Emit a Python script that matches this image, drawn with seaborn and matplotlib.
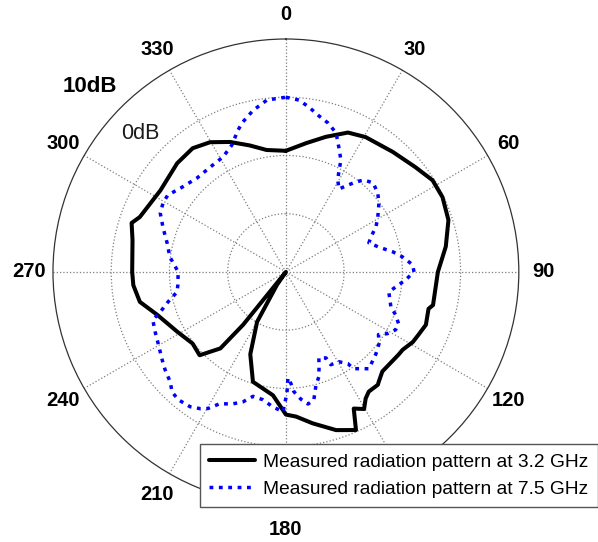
import matplotlib
matplotlib.use("Agg")
import matplotlib.pyplot as plt
import numpy as np
import seaborn as sns

# angles in degrees (clockwise from top), levels in dB
ang_32 = [0, 9, 16.5, 24, 30.6, 41.7, 51, 58, 64.5, 72.3, 81, 90, 102.7, 104.5,
          110.7, 115.3, 118.9, 123.7, 126.3, 132, 135.9, 139.8, 140.8, 145.3,
          147.8, 150.3, 153.6, 156.1, 162.4, 170, 176, 180, 186, 196.7, 203.4,
          210, 214.7, 217, 219, 220.6, 226, 232.5, 241.2, 251.6, 258.4, 265,
          270, 281.7, 287.6, 290.6, 303, 315, 323, 329.7, 336.7, 344, 351, 360]
db_32 = [-9.2, -7.6, -5.8, -3.8, -3.1, -2.4, -1.4, -0.3, -0.2, -0.7, -2.2, -3.9,
         -4.1, -4.7, -4.3, -4.8, -5.1, -5.9, -6.0, -6.2, -6.2, -5.3, -5.0, -5.0,
         -4.3, -2.9, -3.8, -0.3, -1.5, -3.6, -5.1, -5.5, -8.7, -10.3, -14.6,
         -20.1, -27.3, -30.0, -18.3, -12.7, -9.4, -9.8, -8.7, -6.7, -4.4, -3.7,
         -3.6, -3.1, -2.2, -3.2, -4.3, -3.6, -3.4, -4.2, -5.7, -7.4, -8.8, -9.2]

ang_75 = [0, 4.3, 7.9, 11.9, 15.7, 19.8, 23.1, 26.2, 27.9, 29.5, 32.6, 34.9,
          37.9, 40.3, 44.4, 49.3, 53.4, 59.1, 63.4, 67.6, 70.7, 75, 79.4, 82.7,
          86.8, 90, 93.8, 101, 108.4, 111.3, 114.7, 117.8, 121.3, 124.1, 127.7,
          132.3, 134.7, 139.4, 143, 145, 146, 149.5, 154.2, 155, 159, 160.8,
          162.6, 165.1, 167.7, 170.5, 173.3, 176.2, 177.4, 178.9, 179.5, 181.2,
          185.5, 190.2, 194.8, 198.3, 202.2, 206.6, 209.7, 212, 215.4, 220.2,
          223.5, 226.5, 231, 235, 240.3, 245.4, 250.2, 252.4, 255.7, 259.6, 263,
          270, 277.4, 283.7, 289.7, 295, 299.3, 303, 309.3, 316.6, 324, 331.3,
          337, 341.3, 344, 348.5, 353.7, 360]
db_75 = [0.0, -0.4, -1.4, -2.6, -3.4, -4.6, -6.8, -8.6, -10.6, -11.9, -13.1,
         -12.0, -10.4, -9.3, -8.6, -9.2, -10.1, -11.6, -12.7, -14.2, -14.9, -13.5,
         -11.3, -9.8, -8.2, -8.0, -9.4, -12.0, -11.0, -9.8, -8.7, -8.7, -9.6,
         -10.8, -9.8, -9.1, -8.8, -8.1, -9.2, -9.7, -11.0, -12.1, -12.3, -13.7,
         -14.2, -12.7, -11.1, -9.9, -7.5, -7.0, -8.0, -9.4, -10.8, -11.8, -9.2,
         -6.0, -6.7, -7.7, -7.9, -6.5, -5.5, -4.7, -3.0, -2.3, -1.6, -1.3, -1.6,
         -2.6, -3.3, -4.0, -4.8, -5.3, -5.7, -7.4, -9.1, -11.0, -11.3, -11.5,
         -9.9, -9.0, -7.6, -6.2, -5.8, -5.8, -7.0, -7.8, -7.8, -7.5, -6.3, -4.3,
         -3.2, -1.7, -0.3, 0.0]

angle_ticks = list(range(0, 360, 30))
# the 150 label sits under the legend box in the original, so it is not shown
angle_labels = ["" if a == 150 else str(a) for a in angle_ticks]
ring_levels = [-20, -10, 0]
label_32 = "Measured radiation pattern at 3.2 GHz"
label_75 = "Measured radiation pattern at 7.5 GHz"

sns.set_style("white")
plt.rcParams["font.family"] = ["Liberation Sans", "DejaVu Sans"]
plt.rcParams["text.color"] = "black"

fig = plt.figure(figsize=(5.98, 5.42), dpi=100)
ax = fig.add_axes([0.0886, 0.0683, 0.779, 0.860], projection="polar")
ax.set_theta_zero_location("N")
ax.set_theta_direction(-1)

sns.lineplot(x=np.deg2rad(ang_32), y=db_32, ax=ax, sort=False, estimator=None,
             color="black", lw=2.9, label=label_32)
sns.lineplot(x=np.deg2rad(ang_75), y=db_75, ax=ax, sort=False, estimator=None,
             color="#0000ff", lw=2.5, linestyle=(0, (1.1, 1.6)), label=label_75)

ax.set_ylim(-30, 10)
ax.set_yticks(ring_levels)
ax.set_yticklabels([])
ax.set_xticks(np.deg2rad(angle_ticks))
ax.set_xticklabels(angle_labels, fontsize=14.5, fontweight="bold", color="black")
ax.tick_params(axis="x", pad=7)
ax.set_xlabel("")
ax.set_ylabel("")
ax.grid(True, color="#7f7f7f", linestyle=":", linewidth=0.9)
ax.spines["polar"].set_color("#333333")
ax.spines["polar"].set_linewidth(0.9)

fig.text(0.1505, 0.841, "10dB", fontsize=16, fontweight="bold",
         color="black", ha="center", va="center")
fig.text(0.234, 0.753, "0dB", fontsize=15.5, color="#1a1a1a",
         ha="center", va="center")

handles, labels = ax.get_legend_handles_labels()
ax.get_legend().remove()
leg = fig.legend(handles, labels, loc="lower right", bbox_to_anchor=(1.0, 0.064),
                 fontsize=13.8, frameon=True, fancybox=False, edgecolor="#555555",
                 framealpha=1, handlelength=2.4, handletextpad=0.4,
                 labelspacing=0.5, borderpad=0.5, borderaxespad=0)
for t in leg.get_texts():
    t.set_color("black")

fig.savefig("out.png", dpi=100)
